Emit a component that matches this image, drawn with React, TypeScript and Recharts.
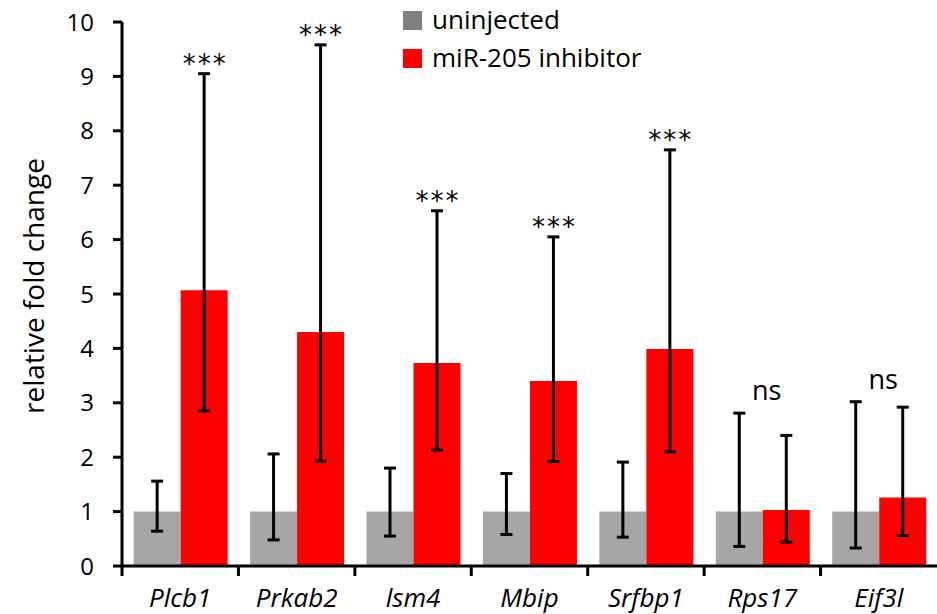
import React from 'react';
import { BarChart, Bar, XAxis, YAxis, ErrorBar, LabelList } from 'recharts';

const genes = ['Plcb1', 'Prkab2', 'lsm4', 'Mbip', 'Srfbp1', 'Rps17', 'Eif3l'];
const uninjected = [1, 1, 1, 1, 1, 1, 1];
const uninjectedLow = [0.64, 0.48, 0.55, 0.58, 0.53, 0.36, 0.33];
const uninjectedHigh = [1.56, 2.06, 1.8, 1.7, 1.91, 2.81, 3.02];
const inhibitor = [5.07, 4.3, 3.73, 3.4, 3.99, 1.03, 1.26];
const inhibitorLow = [2.85, 1.93, 2.13, 1.92, 2.1, 0.44, 0.56];
const inhibitorHigh = [9.05, 9.58, 6.53, 6.05, 7.65, 2.4, 2.92];
const significance = ['***', '***', '***', '***', '***', 'ns', 'ns'];
const yTicks = [0, 1, 2, 3, 4, 5, 6, 7, 8, 9, 10];

const FONT = '"Open Sans", Lato, sans-serif';
const GREY = '#a6a6a6';
const RED = '#ff0000';

const data = genes.map((gene, i) => ({
    gene,
    uninjected: uninjected[i],
    uninjectedErr: [uninjected[i] - uninjectedLow[i], uninjectedHigh[i] - uninjected[i]],
    inhibitor: inhibitor[i],
    inhibitorErr: [inhibitor[i] - inhibitorLow[i], inhibitorHigh[i] - inhibitor[i]],
    sig: significance[i],
}));

// star / ns labels placed above the highest whisker, using the bar's own scale
const SigLabel = (props: any) => {
    const { x, y, width, height, index } = props;
    const perUnit = height / inhibitor[index];
    const base = y + height;
    const sig = significance[index];
    if (sig === 'ns') {
        const top = base - Math.max(uninjectedHigh[index], inhibitorHigh[index]) * perUnit;
        return (
            <text x={x + 4} y={top - 13} textAnchor="middle" fontSize={27} fontFamily={FONT} fill="#000">
                {sig}
            </text>
        );
    }
    const top = base - inhibitorHigh[index] * perUnit;
    return (
        <text
            x={x + width / 2 + 1}
            y={top - 1}
            textAnchor="middle"
            fontSize={26}
            fontFamily='"DejaVu Sans", sans-serif'
            fill="#000"
            letterSpacing={2}
        >
            {sig}
        </text>
    );
};

const PLOT_LEFT = 122;
const PLOT_RIGHT = 937;
const BAND = (PLOT_RIGHT - PLOT_LEFT) / genes.length;

const GeneTick = (props: any) => {
    const { x, y, payload } = props;
    return (
        <g>
            <line x1={x - BAND / 2} y1={y} x2={x - BAND / 2} y2={y + 10} stroke="#000" strokeWidth={3} />
            <text x={x} y={y + 41} textAnchor="middle" fontSize={26} fontStyle="italic" fontFamily={FONT} fill="#000">
                {payload.value}
            </text>
        </g>
    );
};

const Legend = () => (
    <g fontFamily={FONT} fontSize={26} fill="#000">
        <rect x={403} y={11} width={19} height={19} fill="#808080" />
        <text x={432} y={29}>uninjected</text>
        <rect x={403} y={49} width={19} height={19} fill={RED} />
        <text x={432} y={67}>miR-205 inhibitor</text>
    </g>
);

const App: React.FC = () => {
    return (
        <div style={{ position: 'absolute', left: 0, top: 0, width: 937, height: 614, background: '#fff' }}>
            <BarChart
                width={937}
                height={614}
                data={data}
                margin={{ top: 22, right: 0, bottom: 0, left: 62 }}
                barCategoryGap="10%"
                barGap={0}
            >
                <XAxis
                    dataKey="gene"
                    height={48}
                    axisLine={{ stroke: '#000', strokeWidth: 3 }}
                    tickLine={false}
                    tickSize={0}
                    tickMargin={0}
                    tick={<GeneTick />}
                    interval={0}
                />
                <YAxis
                    domain={[0, 10]}
                    ticks={yTicks}
                    interval={0}
                    width={60}
                    axisLine={{ stroke: '#000', strokeWidth: 3 }}
                    tickLine={{ stroke: '#000', strokeWidth: 3 }}
                    tickSize={9}
                    tickMargin={19}
                    tick={{ fill: '#000', fontSize: 24, fontFamily: FONT }}
                    label={() => (
                        <text
                            x={33}
                            y={286}
                            transform="rotate(-90 33 286)"
                            textAnchor="middle"
                            dominantBaseline="central"
                            fontSize={28}
                            fontFamily={FONT}
                            fill="#000"
                        >
                            relative fold change
                        </text>
                    )}
                />
                <Bar dataKey="uninjected" fill={GREY} isAnimationActive={false}>
                    <ErrorBar dataKey="uninjectedErr" width={6} stroke="#000" strokeWidth={3} direction="y" />
                </Bar>
                <Bar dataKey="inhibitor" fill={RED} isAnimationActive={false}>
                    <ErrorBar dataKey="inhibitorErr" width={6} stroke="#000" strokeWidth={3} direction="y" />
                    <LabelList dataKey="sig" content={<SigLabel />} />
                </Bar>
                <Legend />
            </BarChart>
        </div>
    );
};

export default App;
